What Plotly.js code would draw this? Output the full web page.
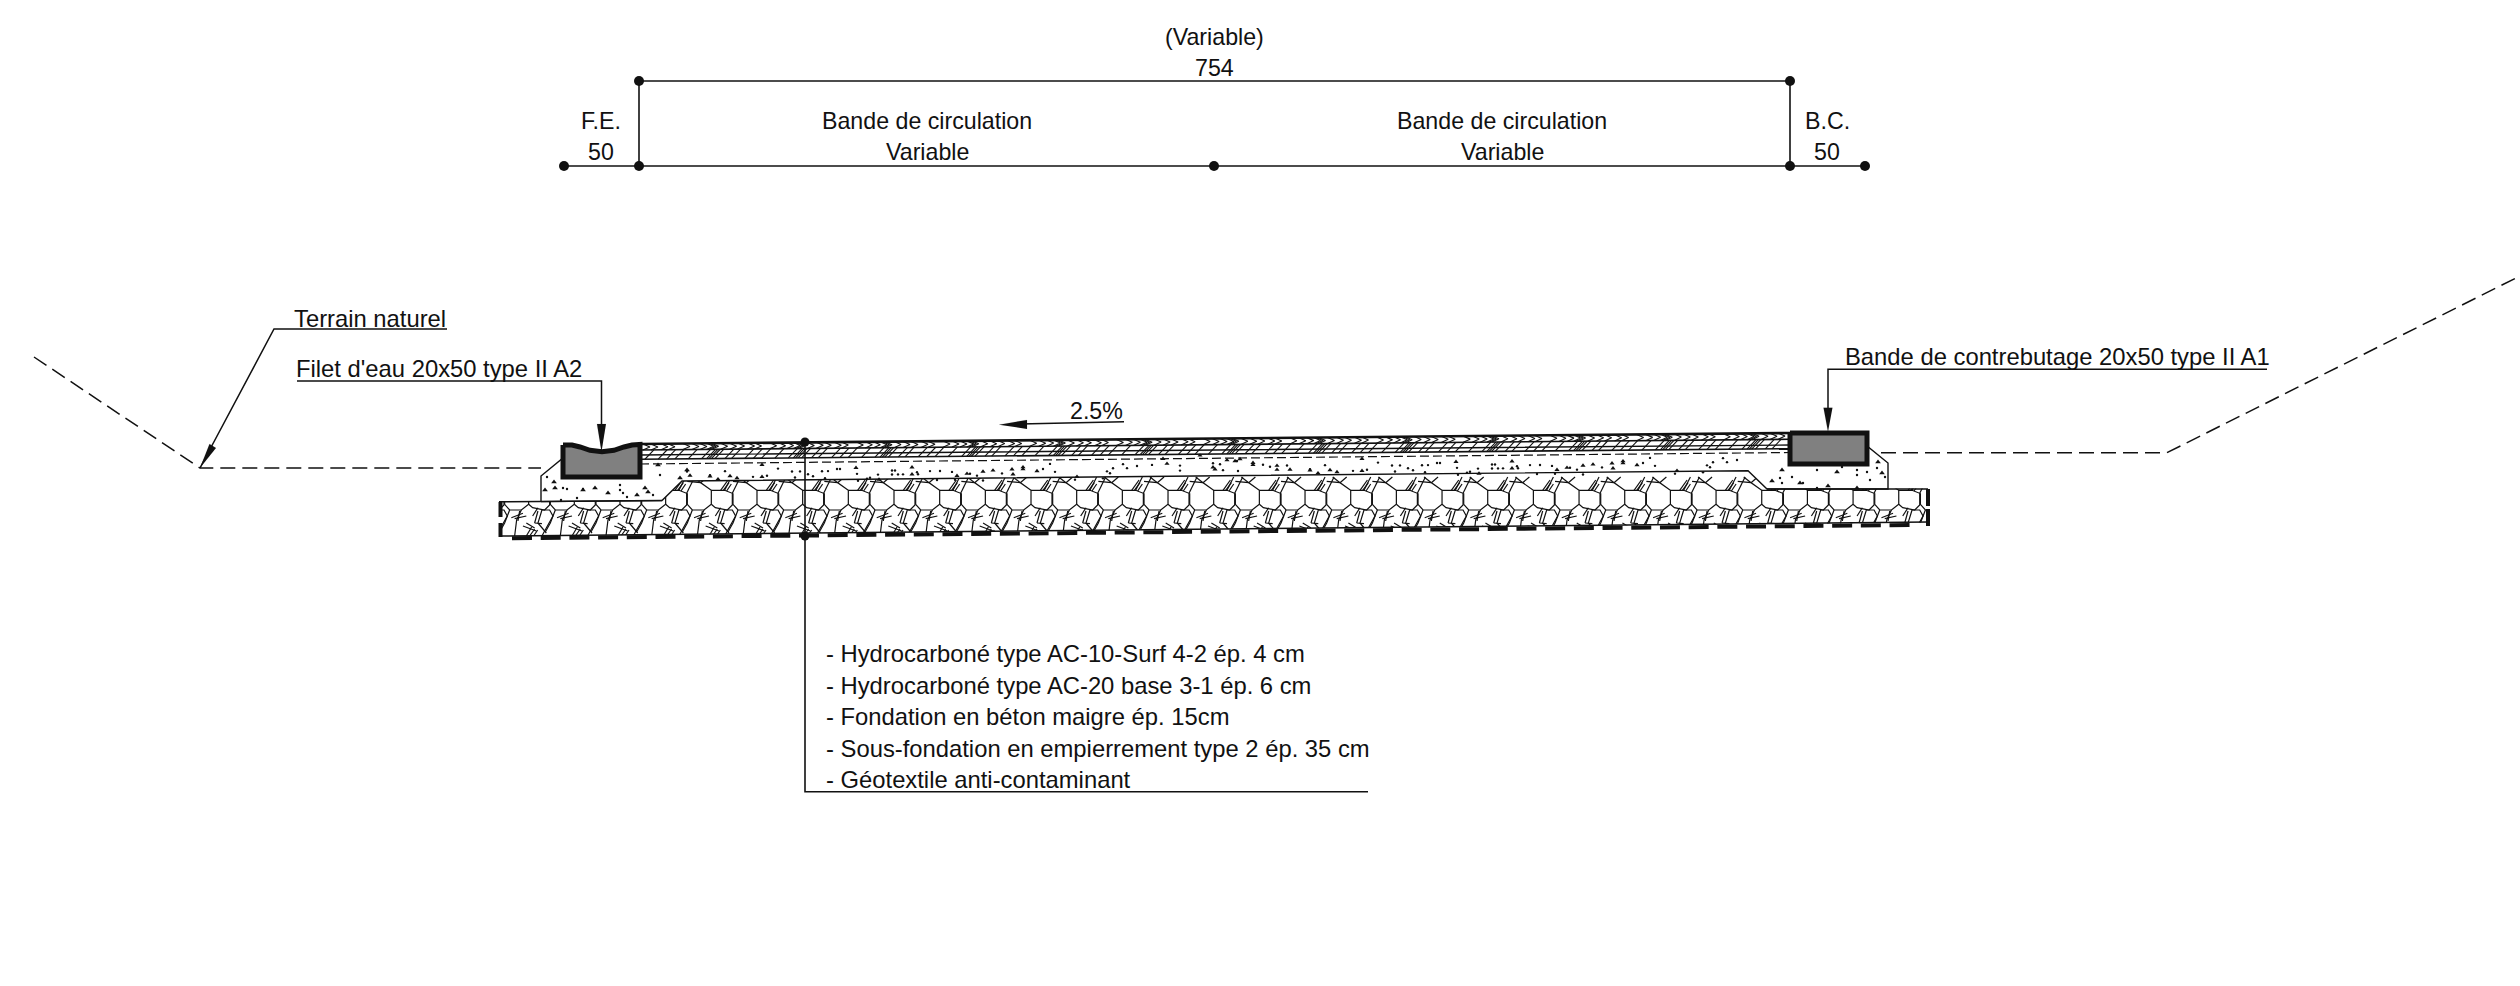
<!DOCTYPE html>
<html><head><meta charset="utf-8">
<script src="https://cdn.plot.ly/plotly-3.0.1.min.js"></script>
<style>html,body{margin:0;padding:0;background:#fff;overflow:hidden}#c{width:2520px;height:986px}</style></head>
<body><div id="c"></div>
<script>
// ---- Drawing geometry (sheet units = reference pixels) ----
const dimTopX=[639,1790], dimTopY=[81,81];
const dimBaseX=[564,639,1214,1790,1865], dimBaseY=[166,166,166,166,166];
const dimLeftX=[639,639], dimLeftY=[81,166];
const dimRightX=[1790,1790], dimRightY=[81,166];
const dimDotX=[639,1790,564,639,1214,1790,1865], dimDotY=[81,81,166,166,166,166,166];

const terrainLeftX=[34,200,541], terrainLeftY=[357,468,468];
const terrainRightX=[1881,2167,2520], terrainRightY=[452.7,452.7,276];

const leaderTerrainX=[447,274,200], leaderTerrainY=[329,329,468];
const headTerrainX=[200,209.5,216], headTerrainY=[468,444,448];
const leaderFiletX=[297,601.5,601.5], leaderFiletY=[381,381,430];
const headFiletX=[601.5,597,606], headFiletY=[451.7,424,424];
const leaderBandeX=[2267,1828,1828], leaderBandeY=[369.3,369.3,410];
const headBandeX=[1828,1823.5,1832.5], headBandeY=[431.7,407.7,407.7];
const slopeX=[1124,1020], slopeY=[421.7,424];
const headSlopeX=[999,1027,1027], headSlopeY=[424.7,420,429];
const layerLeaderX=[805,805,1368], layerLeaderY=[442,791.7,791.7];
const layerDotX=[805,805], layerDotY=[442,536];

const concreteX=[541,541,563,640,1790,1867,1888,1888,1767,1748,682,662,541];
const concreteY=[501.6,476,458,455,445,446,463,489,489,470.7,481,500.5,501.6];
const rockTopX=[499,662], rockTopY=[501.8,500.5];
const rockRightTopX=[1767,1928], rockRightTopY=[489,489];
const rockBottomX=[499,1928], rockBottomY=[536,522];
const rockLeftEndX=[500.5,500.5], rockLeftEndY=[502,537];
const rockRightEndX=[1928,1928], rockRightEndY=[489,526];
const geotextileX=[512,1915], geotextileY=[538.3,525];
const maskBelowX=[440,2000,2000,440], maskBelowY=[537,521.7,570,570];
const maskLeftX=[430,545,545,499,499,430], maskLeftY=[465,465,501.4,501.4,570,570];
const maskRightX=[1885,2000,2000,1928.6,1928.6,1885], maskRightY=[470,470,570,570,488.6,488.6];

const surfaceX=[640,1790], surfaceY=[444,433];
const layer1X=[640,1790], layer1Y=[450,439.3];
const layer2X=[640,1790], layer2Y=[459.3,448.7];
const layerDashX=[640,1790], layerDashY=[464,452.5];

const gutterX=[563,572,580,590,602,614,624,632,640,640,563,563];
const gutterY=[445,445,447,450.3,451.7,450.3,447,445,444.5,477,477,445];
const curbX=[1790,1867,1867,1790,1790], curbY=[433,433,464,464,433];

// one repeat of the stone hatch (x = offset in px, y = sheet y), polylines
const rockPeriod=45.67, rockOrigin=870;
const rockMotif=[
 [[0,481.3],[13.3,482.7],[24,490.3],[24,504.3],[16.7,510],[5,510],[0,504.3],[0,493.3]],
 [[24,490.3],[37.3,490.3],[45,493.3],[45,505],[40,510],[28,507.7],[24,504.3]],
 [[13.3,482.7],[6,477]],[[13.3,482.7],[20,477]],
 [[45,493.3],[53,477]],[[37.3,490.3],[44,477]],
 [[33.3,490.3],[40.7,480]],[[36,490.3],[41.7,482.7]],[[39.3,491],[44,484]],
 [[5,510],[0,523],[-5,532]],[[16.7,510],[12,520],[10,536]],
 [[6.7,517.7],[18.3,513.3]],[[10,518.7],[21.7,516]],[[13.3,521],[15,511]],
 [[18.3,526],[31.7,531]],[[21.7,523],[30,528]],
 [[28,516],[33.3,507.7]],[[33.3,511],[30,523]],[[30,523],[37.3,523.7]],
 [[37.3,510],[45,510],[48.3,516],[40,531],[37.3,536]],[[37.3,510],[33.3,523],[41.7,533]],
 [[21.7,536],[27,527]],[[25,536],[30,529]],[[29,536],[33,530]]
];

// asphalt hatch offsets inside one repeat
const hatchPeriod=86.7, hatchOrigin=880;
const baseHatch=[0,2.3,4.7,8.3,18.3,25,38.3,46.7,55,68.3,81.7];
const surfHatch=[0,2.5,5,14,23,31,41,48,63,72,80];

// aggregate stipple: fine dots and coarse grains (dx from section start, dy from the dashed line)
const stippleTileWidth=600, stippleOrigin=820;
const fineDots=[[2,9],[8,9],[5,16],[17,7],[20,7],[37,12],[38,19],[47,17],[50,16],[58,13],[72,9],[72,13],[78,13],[83,13],[97,11],[98,13],[110,10],[120,10],[132,11],[135,19],[150,13],[157,15],[163,20],[182,13],[117,19],[75,9],
[223,9],[230,4],[235,12],[255,20],[283,19],[290,14],[287,12],[293,9],[303,5],[307,9],[317,7],[332,6],[360,7],[360,12],[393,5],[400,6],
[417,3],[443,7],[450,9],[403,12],[418,13],[467,8],[490,12],[505,8],[558,6],[572,9],[580,9],[593,14],[533,14],[547,13],[575,15],[588,12]];
const coarseDots=[[59,18],[137,15],[163,11],[147,13],[173,10],[192,9],[203,7],[92,6],[193,14],[36,6],[92,13],
[203,9],[217,11],[257,17],[347,5],[343,0],[380,-3],[393,9],[420,1],[433,7],[395,11],
[407,2],[415,3],[433,5],[457,8],[457,12],[470,12],[490,13],[498,16],[510,13],[517,15],[542,2],[542,14]];
const leftGrainsFine=[[547,477],[563,488],[567,489],[583,489],[620,490],[623,493],[620,485],[653,495],[577,498],[561,500],[660,475],[627,497]];
const leftGrainsCoarse=[[545,490],[554,482],[555,488],[583,490],[595,488],[608,493],[637,495],[645,488],[648,492],[658,465],[680,478],[687,470]];
const rightGrainsFine=[[1780,478],[1782,483],[1792,477],[1803,483],[1817,470],[1842,467],[1857,470],[1857,475],[1870,480],[1877,468],[1885,477],[1817,488],[1867,472]];
const rightGrainsCoarse=[[1772,481],[1782,470],[1800,483],[1837,472],[1828,486],[1857,488],[1878,462],[1882,473]];

// ---- Text ----
const dimTexts=["(Variable)","754","F.E.","50","Bande de circulation","Variable","Bande de circulation","Variable","B.C.","50","2.5%"];
const dimTextX=[1214,1214,601,601,927,927,1502,1502,1827,1827,1096];
const dimTextY=[37,68,121,152,121,152,121,152,121,152,411];
const calloutTexts=["Terrain naturel","Filet d'eau 20x50 type II A2","Bande de contrebutage 20x50 type II A1"];
const calloutX=[370,439,2057];
const calloutY=[318,368,356];
const listTexts=["- Hydrocarboné type AC-10-Surf 4-2 ép. 4 cm","- Hydrocarboné type AC-20 base 3-1 ép. 6 cm","- Fondation en béton maigre ép. 15cm","- Sous-fondation en empierrement type 2 ép. 35 cm","- Géotextile anti-contaminant"];
const listX=823.5, listY=[653,685,716,748,779];

// ---- Helpers ----
const INK='#111';
function lerp(xs,ys,x){return ys[0]+(ys[1]-ys[0])*(x-xs[0])/(xs[1]-xs[0]);}
function line(x,y,w,extra){return Object.assign({type:'scatter',mode:'lines',x,y,line:{color:INK,width:w,simplify:false},hoverinfo:'skip',showlegend:false,connectgaps:false},extra||{});}
function poly(x,y,fill,lw){return {type:'scatter',mode:'lines',x,y,fill:'toself',fillcolor:fill,line:{color:lw?INK:fill,width:lw||0.1},hoverinfo:'skip',showlegend:false};}
function dots(x,y,size,sym){return {type:'scatter',mode:'markers',x,y,marker:{color:INK,size,symbol:sym||'circle',line:{width:0}},hoverinfo:'skip',showlegend:false};}

// stone hatch
const rx=[],ry=[];
for(let n=-9;n<=23;n++){const o=rockOrigin+n*rockPeriod;
  rockMotif.forEach(pl=>{pl.forEach(p=>{rx.push(o+p[0]);ry.push(p[1]);});rx.push(null);ry.push(null);});}
// asphalt hatch
const bx=[],by=[],sx=[],sy=[];
for(let n=-3;n<=11;n++){const o=hatchOrigin+n*hatchPeriod;
  baseHatch.forEach(d=>{const x0=o+d,x1=x0+9;
    if(x0>640&&x1<1790){bx.push(x0,x1,null);by.push(lerp(layer2X,layer2Y,x0),lerp(layer1X,layer1Y,x1),null);}});
  surfHatch.forEach(d=>{const x0=o+d,xm=x0+7;
    if(x0>640&&xm<1790){sx.push(x0,xm,x0,null);sy.push(lerp(surfaceX,surfaceY,x0),lerp(surfaceX,surfaceY,x0)+3,lerp(layer1X,layer1Y,x0),null);}});
}
// stipple
function tile(list){const X=[],Y=[];
  [-1,0,1].forEach(k=>list.forEach(p=>{const x=stippleOrigin+k*stippleTileWidth+p[0];
    if(x>686&&x<1745){X.push(x);Y.push(lerp(layerDashX,layerDashY,x)+p[1]);}}));return [X,Y];}
const [fx,fy]=tile(fineDots), [cx,cy]=tile(coarseDots);
const col=(l,i)=>l.map(p=>p[i]);

const traces=[
 line(rx,ry,1.2),
 poly(maskBelowX,maskBelowY,'#fff'),poly(maskLeftX,maskLeftY,'#fff'),poly(maskRightX,maskRightY,'#fff'),
 line(terrainLeftX,terrainLeftY,1.5,{line:{color:INK,width:1.5,dash:'15px,7px'}}),
 line(terrainRightX,terrainRightY,1.5,{line:{color:INK,width:1.5,dash:'15px,7px'}}),
 poly(concreteX,concreteY,'#fff',1.4),
 line(rockTopX,rockTopY,1.5),line(rockRightTopX,rockRightTopY,1.5),line(rockBottomX,rockBottomY,1.5),
 line(rockLeftEndX,rockLeftEndY,4,{line:{color:INK,width:4,dash:'15px,6px'}}),
 line(rockRightEndX,rockRightEndY,4,{line:{color:INK,width:4,dash:'17px,3px'}}),
 line(geotextileX,geotextileY,4,{line:{color:INK,width:4,dash:'20px,8.7px'}}),
 dots(fx,fy,2.4),dots(cx,cy,4.5,'triangle-up'),
 dots(col(leftGrainsFine,0),col(leftGrainsFine,1),2.4),dots(col(leftGrainsCoarse,0),col(leftGrainsCoarse,1),5,'triangle-up'),
 dots(col(rightGrainsFine,0),col(rightGrainsFine,1),2.4),dots(col(rightGrainsCoarse,0),col(rightGrainsCoarse,1),5,'triangle-up'),
 line(bx,by,1.1),line(sx,sy,1.1),
 line(surfaceX,surfaceY,2.6),line(layer1X,layer1Y,1.6),line(layer2X,layer2Y,1.6),
 line(layerDashX,layerDashY,1.2,{line:{color:INK,width:1.2,dash:'9px,4px'}}),
 poly(gutterX,gutterY,'#808080',5),poly(curbX,curbY,'#808080',5),
 line(dimTopX,dimTopY,1.6),line(dimBaseX,dimBaseY,1.6),line(dimLeftX,dimLeftY,1.6),line(dimRightX,dimRightY,1.6),
 dots(dimDotX,dimDotY,10),
 line(leaderTerrainX,leaderTerrainY,1.5),poly(headTerrainX,headTerrainY,INK),
 line(leaderFiletX,leaderFiletY,1.5),poly(headFiletX,headFiletY,INK),
 line(leaderBandeX,leaderBandeY,1.5),poly(headBandeX,headBandeY,INK),
 line(slopeX,slopeY,1.5),poly(headSlopeX,headSlopeY,INK),
 line(layerLeaderX,layerLeaderY,1.6),dots(layerDotX,layerDotY,9)
];

const fam='"Liberation Sans",Arial,sans-serif';
const mk=(t,x,y,anchor,size)=>({text:t,x,y,xref:'x',yref:'y',showarrow:false,xanchor:anchor,yanchor:'middle',font:{family:fam,size,color:INK}});
const annotations=[
 ...dimTexts.map((t,i)=>mk(t,dimTextX[i],dimTextY[i],'center',23.2)),
 ...calloutTexts.map((t,i)=>mk(t,calloutX[i],calloutY[i],'center',23.8)),
 ...listTexts.map((t,i)=>mk(t,listX,listY[i],'left',23.8))
];

const axis={visible:false,showgrid:false,zeroline:false,fixedrange:true};
Plotly.newPlot('c',traces,{
 width:2520,height:986,margin:{l:0,r:0,t:0,b:0},paper_bgcolor:'#fff',plot_bgcolor:'#fff',showlegend:false,hovermode:false,
 xaxis:Object.assign({range:[0,2520]},axis),yaxis:Object.assign({range:[986,0]},axis),annotations
},{displayModeBar:false,staticPlot:true});
</script></body></html>
